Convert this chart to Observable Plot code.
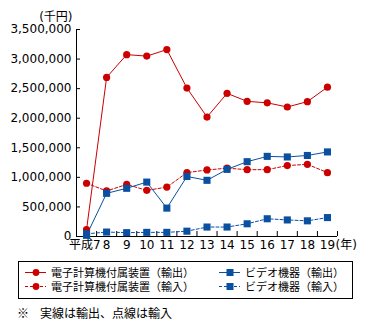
<!DOCTYPE html>
<html>
<head>
<meta charset="utf-8">
<script src="https://cdn.jsdelivr.net/npm/d3@7"></script>
<script src="https://cdn.jsdelivr.net/npm/@observablehq/plot@0.6"></script>
<style>
  html, body { margin: 0; padding: 0; background: #fff; }
  body { position: relative; width: 368px; height: 327px; overflow: hidden;
         font-family: "DejaVu Sans", "Noto Sans CJK JP", sans-serif; }
  #chart { position: absolute; left: 0; top: 0; }
  #legend { position: absolute; left: 18px; top: 261px; width: 335px; height: 38px;
            border: 1px solid #000; box-sizing: border-box; }
  .item { position: absolute; height: 13px; font-size: 11px; line-height: 13px; white-space: nowrap;
          font-family: "Noto Sans CJK JP", sans-serif; }
  .item svg { position: absolute; left: 0; top: 0; }
  .item span { position: absolute; left: 26px; top: 0; }
  #note { position: absolute; left: 17px; top: 305px; font-size: 12px; line-height: 16px; white-space: nowrap;
          font-family: "Noto Sans CJK JP", sans-serif; }
</style>
</head>
<body>
<div id="chart"></div>
<div id="legend"></div>
<div id="note"><span>※</span><span style="position:absolute;left:23px;">実線は輸出、点線は輸入</span></div>
<script>
// ---- data ----
const years = [7, 8, 9, 10, 11, 12, 13, 14, 15, 16, 17, 18, 19];
const yearLabels = ["平成7", "8", "9", "10", "11", "12", "13", "14", "15", "16", "17", "18", "19"];
const pcExport = [115000, 2690000, 3075000, 3050000, 3160000, 2510000, 2020000, 2420000, 2285000, 2260000, 2190000, 2280000, 2525000];
const pcImport = [900000, 770000, 880000, 780000, 835000, 1080000, 1125000, 1155000, 1130000, 1130000, 1200000, 1220000, 1080000];
const videoExport = [20000, 730000, 815000, 920000, 480000, 1015000, 950000, 1135000, 1265000, 1355000, 1345000, 1370000, 1430000];
const videoImport = [45000, 75000, 65000, 70000, 70000, 90000, 160000, 160000, 215000, 300000, 280000, 265000, 320000];
const yTicks = [0, 500000, 1000000, 1500000, 2000000, 2500000, 3000000, 3500000];
const seriesNames = ["電子計算機付属装置（輸出）", "電子計算機付属装置（輸入）", "ビデオ機器（輸出）", "ビデオ機器（輸入）"];
const yUnit = "(千円)";
const xUnit = "(年)";

const RED = "#cc0000", BLUE = "#0a50a0";
const series = [
  {name: seriesNames[0], values: pcExport, color: RED, dash: null, symbol: "circle"},
  {name: seriesNames[1], values: pcImport, color: RED, dash: "3,2", symbol: "circle"},
  {name: seriesNames[2], values: videoExport, color: BLUE, dash: null, symbol: "square"},
  {name: seriesNames[3], values: videoImport, color: BLUE, dash: "3,2", symbol: "square"}
];
const boundaries = years.map(y => y + 0.5);
const labelRows = years.map((y, i) => ({year: y, label: yearLabels[i]}));

const marks = [];
for (const s of series) {
  const rows = years.map((y, i) => ({year: y, value: s.values[i]}));
  marks.push(Plot.line(rows, {x: "year", y: "value", stroke: s.color, strokeWidth: 1, strokeDasharray: s.dash}));
}
for (const s of series) {
  const rows = years.map((y, i) => ({year: y, value: s.values[i]}));
  marks.push(Plot.dot(rows, {x: "year", y: "value", fill: s.color, stroke: "none", symbol: s.symbol, r: s.symbol === "circle" ? 3.6 : 4}));
}

const plot = Plot.plot({
  width: 368, height: 258,
  marginLeft: 76, marginRight: 31, marginTop: 29, marginBottom: 22,
  style: {fontFamily: '"DejaVu Sans", "Noto Sans CJK JP", sans-serif', fontSize: "12px", color: "#000", background: "transparent"},
  x: {domain: [6.5, 19.5], axis: null},
  y: {domain: [0, 3500000], axis: null},
  marks: [
    Plot.axisY({ticks: yTicks, tickSize: -4, tickPadding: 9, tickFormat: d3.format(","), label: null, fontSize: 12}),
    Plot.axisX({ticks: boundaries, tickSize: -5, tickFormat: () => "", label: null}),
    Plot.ruleX([6.5], {y1: 0, y2: 3500000, stroke: "#000"}),
    Plot.ruleY([0], {x1: 6.5, x2: 19.5, stroke: "#000"}),
    Plot.text(labelRows.slice(0, 1), {x: "year", text: "label", frameAnchor: "bottom", dy: 12, dx: 14, textAnchor: "end", fontSize: 12}),
    Plot.text(labelRows.slice(1), {x: "year", text: "label", frameAnchor: "bottom", dy: 12, fontSize: 12}),
    Plot.text([xUnit], {x: 19, text: d => d, frameAnchor: "bottom", dy: 12, dx: 8, textAnchor: "start", fontSize: 12}),
    Plot.text([yUnit], {frameAnchor: "top-left", dx: -4, dy: -17, textAnchor: "end", fontSize: 12}),
    ...marks
  ]
});
document.getElementById("chart").appendChild(plot);

// legend
const legend = document.getElementById("legend");
const pos = [[6, 4], [6, 18], [200, 4], [200, 18]];
series.forEach((s, i) => {
  const div = document.createElement("div");
  div.className = "item";
  div.style.left = pos[i][0] + "px";
  div.style.top = pos[i][1] + "px";
  const marker = s.symbol === "circle"
    ? `<circle cx="11" cy="6.5" r="3.4" fill="${s.color}"/>`
    : `<rect x="7.5" y="3" width="7" height="7" fill="${s.color}"/>`;
  div.innerHTML = `<svg width="24" height="13"><line x1="0" x2="21" y1="6.5" y2="6.5" stroke="${s.color}" stroke-width="1" ${s.dash ? `stroke-dasharray="${s.dash}"` : ""}/>${marker}</svg><span>${s.name}</span>`;
  legend.appendChild(div);
});
</script>
</body>
</html>
